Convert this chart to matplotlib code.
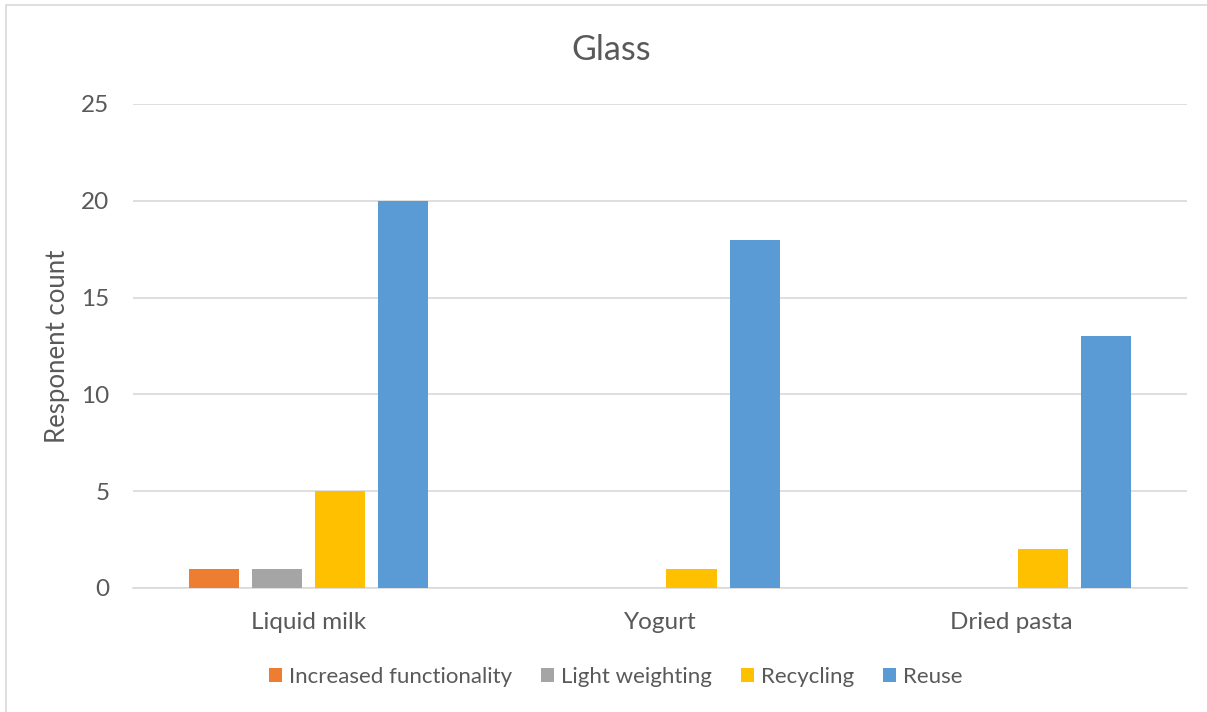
import matplotlib
matplotlib.use("Agg")
import matplotlib.pyplot as plt
import numpy as np
from matplotlib.patches import Rectangle

plt.rcParams['font.family'] = ['Lato', 'DejaVu Sans']

categories = ["Liquid milk", "Yogurt", "Dried pasta"]
series_names = ["Increased functionality", "Light weighting", "Recycling", "Reuse"]
increased_functionality = [1, 0, 0]
light_weighting = [1, 0, 0]
recycling = [5, 1, 2]
reuse = [20, 18, 13]
colors = ["#ED7D31", "#A5A5A5", "#FFC000", "#5B9BD5"]
yticks = [0, 5, 10, 15, 20, 25]

W, H = 1207, 712
fig = plt.figure(figsize=(W / 100, H / 100), dpi=100)
ax = fig.add_axes([133 / W, 1 - 588 / H, (1187 - 133) / W, (588 - 104) / H])

x = np.arange(len(categories))
width = 0.1425
step = 0.1795
all_series = [increased_functionality, light_weighting, recycling, reuse]
for i, (vals, name, c) in enumerate(zip(all_series, series_names, colors)):
    ax.bar(x + (i - 1.5) * step, vals, width, color=c, label=name, zorder=3)

ax.set_xlim(-0.5, len(categories) - 0.5)
ax.set_ylim(0, 25)
ax.set_yticks(yticks)
ax.set_xticks(x)
ax.set_xticklabels(categories)
ax.yaxis.grid(True, color="#D9D9D9", linewidth=1.2, zorder=0)
for s in ["top", "right", "left"]:
    ax.spines[s].set_visible(False)
ax.spines["bottom"].set_color("#D9D9D9")
ax.spines["bottom"].set_linewidth(1.2)
ax.tick_params(axis="both", length=0, colors="#595959", labelsize=17.5)
ax.tick_params(axis="y", pad=17)
ax.tick_params(axis="x", pad=17)
ax.set_ylabel("Responent count", fontsize=18.5, color="#595959")
ax.yaxis.set_label_coords((70 - 133) / (1187 - 133), 0.5)

fig.text(611 / W, 1 - 50 / H, "Glass", ha="center", va="center",
         fontsize=24.5, color="#595959")

leg = fig.legend(loc="center", bbox_to_anchor=(616 / W, 1 - 677 / H), ncol=4,
                 frameon=False, fontsize=16, handlelength=0.58, handleheight=0.58,
                 handletextpad=0.32, columnspacing=1.3)
for t in leg.get_texts():
    t.set_color("#595959")

fig.patches.append(Rectangle((6 / W, -0.1), 1.2, 1 - 5 / H + 0.1, transform=fig.transFigure,
                             fill=False, edgecolor="#D9D9D9", linewidth=1.2))

fig.savefig("out.png", dpi=100)
